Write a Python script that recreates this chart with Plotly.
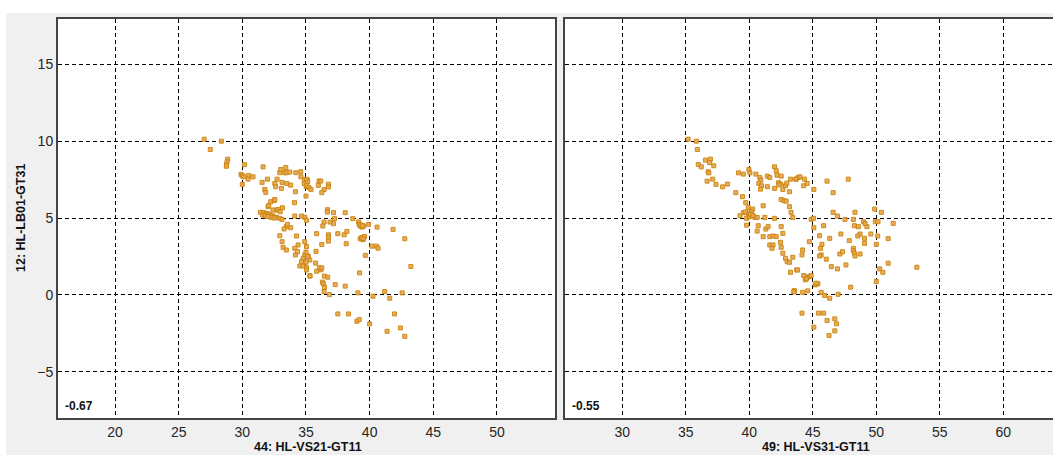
import plotly.graph_objects as go

# ---- data ----
x_left = [27.0, 28.35, 27.48, 28.85, 28.8, 28.75, 28.75, 30.18, 29.9, 30.0, 30.1, 30.5, 30.84, 30.45, 30.0,
          31.63, 31.55, 31.97, 31.76, 31.84, 32.94, 33.33, 33.46, 33.02, 33.41, 33.73, 34.2, 34.59, 32.73,
          32.55, 33.12, 32.62, 33.07, 33.49, 33.8, 34.17, 34.6, 34.9, 35.1, 34.86, 35.01, 32.5, 32.23, 32.55,
          32.02, 32.07, 34.1, 33.15, 31.42, 31.68, 31.89, 32.07, 32.23, 32.41, 32.68, 32.94, 33.12, 32.68,
          32.41, 32.81, 32.97, 32.28, 34.12, 34.65, 34.91, 33.46, 33.28, 33.8, 33.54, 32.94, 33.12, 33.2,
          33.46, 34.12, 34.38, 34.25, 34.9, 35.04, 34.91, 34.78, 34.65, 34.52, 34.78, 35.17, 35.3, 35.3,
          35.04, 34.17, 34.33,
          35.05, 35.13, 35.05, 35.24, 35.39, 35.0, 36.03, 36.16, 35.97, 36.76, 36.76, 36.42, 36.24, 36.68,
          36.68, 37.16, 38.08, 37.24, 38.68, 35.05, 36.42, 36.32, 36.89, 37.16, 36.76, 36.76, 36.76, 35.84,
          36.24, 37.5, 38.0, 38.21, 38.16, 39.13, 39.26, 39.39, 39.53, 39.18, 39.92, 40.58, 41.84, 42.76,
          39.26, 39.39, 39.6, 39.47, 40.18, 40.53, 40.66, 39.66, 35.0, 35.13, 35.0, 35.05, 35.32, 35.79,
          35.76, 35.84, 36.18, 36.05, 36.24, 36.45, 36.71, 36.29, 36.37, 36.45, 36.42, 36.84, 37.29, 38.08,
          39.21, 39.08, 40.26, 41.18, 41.58, 42.55, 37.5, 38.34, 39.0, 39.18, 40.0, 41.37, 41.95, 42.42,
          42.76, 43.24, 39.3, 39.45, 39.35, 39.5, 31.6, 31.8, 32.0, 32.5]
y_left = [10.13, 10.0, 9.46, 8.83, 8.66, 8.48, 8.37, 8.47, 7.84, 7.75, 7.68, 7.77, 7.68, 7.53, 7.19,
          8.33, 7.32, 7.53, 6.86, 6.67, 7.95, 7.95, 7.95, 8.16, 8.29, 7.99, 7.95, 8.01, 7.53,
          7.25, 7.32, 7.04, 6.93, 7.25, 7.14, 6.71, 7.68, 7.51, 7.47, 7.25, 7.04, 6.13, 6.06, 6.21,
          5.74, 5.81, 6.0, 5.67, 5.37, 5.35, 5.30, 5.26, 5.19, 5.13, 5.04, 4.98, 4.91, 5.52,
          5.52, 5.56, 5.41, 5.04, 5.13, 5.13, 5.04, 4.44, 4.29, 4.37, 4.59, 3.85, 3.46, 3.09,
          2.92, 3.03, 3.25, 3.83, 3.46, 3.14, 2.6, 2.38, 2.16, 1.88, 1.88, 2.53, 2.27, 1.25,
          1.78, 2.6, 2.81,
          7.52, 7.35, 7.13, 6.98, 6.85, 6.43, 7.41, 7.41, 7.13, 7.2, 7.02, 6.85, 6.65, 5.54,
          5.39, 5.35, 5.35, 4.96, 4.96, 4.85, 4.74, 4.48, 4.74, 4.63, 3.91, 3.76, 3.5, 3.98,
          3.28, 3.98, 3.91, 4.13, 3.33, 4.74, 4.48, 4.41, 4.48, 4.59, 4.59, 4.41, 4.26, 3.65,
          3.65, 3.72, 3.8, 3.59, 3.17, 3.17, 3.04, 2.57, 2.78, 2.5, 2.13, 1.63, 1.22, 2.83,
          2.07, 1.54, 1.63, 1.76, 1.76, 1.22, 1.15, 0.83, 0.72, 0.5, 0.22, 0.02, 0.67, 0.57,
          1.43, 0.13, -0.09, 0.22, -0.22, 0.13, -1.24, -1.24, -1.72, -1.61, -1.89, -2.37, -1.24, -2.15,
          -2.7, 1.85, 4.55, 4.5, 3.7, 3.66, 5.2, 5.15, 5.1, 5.0]

x_right = [35.18, 35.83, 35.91, 35.98, 36.22, 36.76, 36.81, 36.68, 37.12, 37.38, 37.9, 38.29,
           36.55, 36.94, 36.87, 37.2,
           38.94, 39.46, 39.72, 41.09, 40.26, 40.18, 39.92, 39.53, 39.27, 39.79, 40.0, 40.44, 40.62,
           39.79, 40.7, 40.62, 41.3, 41.48, 41.09, 41.99, 41.61, 41.87, 42.12,
           41.61, 41.87, 41.79, 42.46, 42.51, 42.64, 42.85, 42.98, 43.16, 43.42, 43.24, 43.73, 43.55,
           42.51, 42.64, 41.22,
           39.15, 39.53, 39.97, 40.05, 40.52, 40.83, 40.91, 40.75, 40.96, 40.88, 41.42, 41.61, 41.99,
           42.12, 42.18, 42.51, 41.42, 41.99, 42.31, 42.46, 42.64, 42.33, 42.85, 42.95, 43.16, 43.24,
           43.68, 43.86, 42.51, 42.72, 42.9, 43.16, 43.29, 43.42,
           43.67, 43.99, 44.34, 44.28, 44.55, 45.08, 46.12, 46.6, 47.79,
           44.87, 45.05, 45.08, 45.85, 46.6, 46.94, 47.53, 48.19, 48.32, 48.27, 48.59, 48.72, 49.26,
           48.99, 49.12, 49.87, 49.92, 50.13, 50.4, 51.33,
           44.73, 45.53, 45.72, 46.33, 47.21, 47.87, 48.54, 49.07, 49.07, 49.57, 50.11, 50.93, 50.0,
           44.2, 44.15, 45.61, 45.66, 45.53, 46.06, 47.13, 47.34, 48.19, 48.19, 48.27, 48.32, 48.72,
           47.61, 46.94, 46.46, 50.93, 50.27, 50.51, 50.0, 53.19,
           43.8, 44.28, 44.6, 44.41, 44.73, 44.87, 45.19, 45.4, 45.27, 47.98, 43.54, 44.2, 44.6, 45.66,
           45.93, 46.33, 46.99,
           44.15, 45.45, 45.85, 46.12, 46.73, 46.86, 45.08, 46.73, 46.28,
           39.9, 40.1, 40.3, 39.7, 44.5, 43.5]
y_right = [10.13, 10.0, 9.46, 8.48, 8.33, 8.01, 7.94, 7.4, 7.53, 7.19, 7.03, 7.21,
           8.77, 8.83, 8.61, 8.4,
           6.65, 6.39, 6.0, 5.8, 5.58, 5.41, 5.69, 5.35, 5.15, 4.98, 5.09, 5.04, 5.04,
           4.54, 4.5, 4.15, 4.28, 4.44, 3.79, 4.98, 3.79, 3.83, 3.79,
           3.25, 3.25, 3.03, 3.42, 3.1, 2.71, 2.38, 2.16, 2.12, 2.45, 1.47, 1.62, 0.26,
           4.44, 4.0, 5.04,
           7.94, 7.86, 8.16, 7.94, 7.86, 7.64, 7.47, 7.25, 7.1, 6.88, 7.73, 7.64, 8.33,
           8.07, 7.79, 7.73, 7.04, 6.93, 7.3, 7.21, 6.86, 7.16, 7.1, 7.27, 6.71, 7.53,
           7.53, 7.64, 6.21, 6.13, 6.1, 5.74, 5.37, 5.04,
           7.53, 7.68, 7.53, 7.1, 7.25, 6.86, 7.4, 6.65, 7.53,
           4.91, 4.98, 4.37, 4.5, 5.37, 5.13, 4.91, 4.91, 5.37, 4.5, 4.44, 3.96, 4.44,
           4.76, 4.65, 5.58, 4.76, 4.76, 5.37, 4.65,
           3.46, 3.85, 3.29, 3.68, 3.96, 3.53, 3.83, 3.68, 3.35, 3.96, 3.83, 3.66, 3.29,
           2.92, 2.6, 3.03, 2.6, 2.53, 2.32, 2.66, 2.81, 3.03, 2.88, 2.71, 2.53, 2.66,
           1.95, 1.69, 1.84, 2.06, 1.69, 1.47, 0.87, 1.8,
           1.62, 1.26, 1.15, 0.98, 1.2, 1.26, 0.65, 0.72, 0.76, 0.5, 0.26, 0.17, 0.26, 0.17,
           -0.04, -0.22, 0.04,
           -1.19, -1.19, -1.19, -1.67, -1.56, -1.88, -2.1, -2.34, -2.64,
           5.3, 5.25, 5.15, 5.4, 1.05, 0.2]

x_ticks_left = [20, 25, 30, 35, 40, 45, 50]
x_ticks_right = [30, 35, 40, 45, 50, 55, 60]
y_ticks = [-5, 0, 5, 10, 15]
x_title_left = "44: HL-VS21-GT11"
x_title_right = "49: HL-VS31-GT11"
y_title = "12: HL-LB01-GT31"
corr_left = "-0.67"
corr_right = "-0.55"

# ---- layout geometry ----
W, H = 1053, 455
FONT = "Liberation Sans, Arial, sans-serif"
marker = dict(symbol="square", size=4, color="#e8a850",
              line=dict(color="#cc8612", width=1), opacity=0.95)

fig = go.Figure()
fig.add_trace(go.Scatter(x=x_left, y=y_left, mode="markers", marker=marker,
                         xaxis="x", yaxis="y", showlegend=False, hoverinfo="skip"))
fig.add_trace(go.Scatter(x=x_right, y=y_right, mode="markers", marker=marker,
                         xaxis="x2", yaxis="y2", showlegend=False, hoverinfo="skip"))

grid = dict(showgrid=True, gridcolor="#000000", gridwidth=1.2, griddash="4px,3px",
            zeroline=False, ticks="", tickfont=dict(family=FONT, size=14, color="#262626"))
line = dict(showline=True, linecolor="#444444", linewidth=2)

ydom = [1 - 418.3 / H, 1 - 19 / H]
fig.update_layout(
    width=W, height=H,
    margin=dict(l=0, r=0, t=0, b=0),
    paper_bgcolor="#f0f0f0", plot_bgcolor="#ffffff",
    xaxis=dict(domain=[58 / W, 555 / W], range=[15.52, 54.56], tickvals=x_ticks_left,
               anchor="y", mirror=True, **grid, **line),
    yaxis=dict(domain=ydom, range=[-8.03, 17.95], tickvals=y_ticks,
               anchor="x", mirror=True, **grid, **line),
    xaxis2=dict(domain=[565 / W, 1.0], range=[25.49, 63.91], tickvals=x_ticks_right,
                anchor="y2", mirror=True, **grid, **line),
    yaxis2=dict(domain=ydom, range=[-8.03, 17.95], tickvals=y_ticks, showticklabels=False,
                anchor="x2", mirror=False, **grid, **line),
    shapes=[
        dict(type="rect", xref="paper", yref="paper", x0=0, x1=1, y0=1 - 13 / H, y1=1,
             fillcolor="#ffffff", line=dict(width=0), layer="below"),
        dict(type="rect", xref="paper", yref="paper", x0=0, x1=6 / W, y0=0, y1=1,
             fillcolor="#ffffff", line=dict(width=0), layer="below"),
    ],
)

bold = dict(family=FONT, size=12.5, color="#111111")
small_bold = dict(family=FONT, size=12, color="#111111")
ann = [
    dict(text="<b>%s</b>" % x_title_left, x=308 / W, y=1 - 447 / H, xref="paper", yref="paper",
         showarrow=False, font=bold, xanchor="center", yanchor="middle"),
    dict(text="<b>%s</b>" % x_title_right, x=816 / W, y=1 - 447 / H, xref="paper", yref="paper",
         showarrow=False, font=bold, xanchor="center", yanchor="middle"),
    dict(text="<b>%s</b>" % y_title, x=21 / W, y=1 - 218 / H, xref="paper", yref="paper",
         showarrow=False, font=bold, textangle=-90, xanchor="center", yanchor="middle"),
    dict(text="<b>%s</b>" % corr_left, x=63 / W, y=1 - 406 / H, xref="paper", yref="paper",
         showarrow=False, font=small_bold, xanchor="left", yanchor="middle"),
    dict(text="<b>%s</b>" % corr_right, x=570 / W, y=1 - 406 / H, xref="paper", yref="paper",
         showarrow=False, font=small_bold, xanchor="left", yanchor="middle"),
]
fig.update_layout(annotations=ann)

fig.write_html("out.html")
